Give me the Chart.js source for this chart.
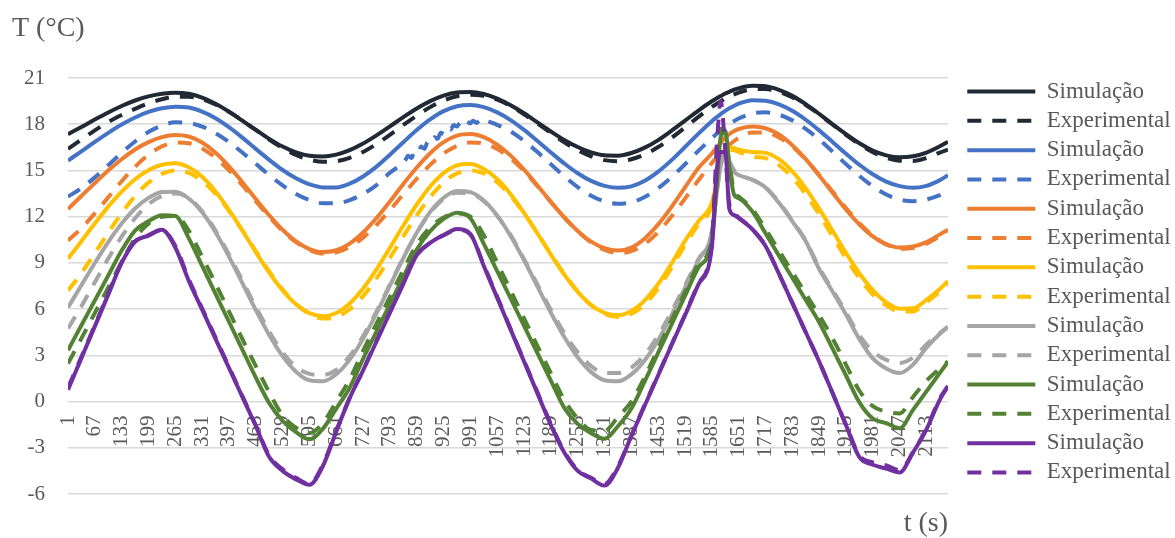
<!DOCTYPE html>
<html>
<head>
<meta charset="utf-8">
<script src="https://cdn.jsdelivr.net/npm/chart.js@4.4.1/dist/chart.umd.min.js"></script>
<style>
  html, body { margin: 0; padding: 0; background: #ffffff; }
  canvas { display: block; }
</style>
</head>
<body>
<canvas id="chart" width="1175" height="538"></canvas>
<script>
// Time samples (s) shared by every series
const times = [
  1, 34, 67, 100, 133, 166, 199, 232, 265, 298,
  331, 364, 397, 430, 463, 496, 529, 562, 595, 628,
  661, 694, 727, 760, 793, 826, 859, 892, 925, 958,
  991, 1024, 1057, 1090, 1123, 1156, 1189, 1222, 1255, 1288,
  1321, 1354, 1387, 1420, 1453, 1486, 1519, 1552, 1585, 1597,
  1607, 1618, 1628, 1640, 1651, 1684, 1717, 1750, 1783, 1816,
  1849, 1882, 1915, 1948, 1981, 2014, 2047, 2080, 2113, 2146,
  2166
];

// Category labels shown along the time axis
const timeTicks = [1, 67, 133, 199, 265, 331, 397, 463, 529, 595, 661, 727, 793, 859, 925, 991,
  1057, 1123, 1189, 1255, 1321, 1387, 1453, 1519, 1585, 1651, 1717, 1783, 1849, 1915, 1981, 2047, 2113];

// Temperatures (°C)
const simBlack = [
  17.35, 17.82, 18.30, 18.76, 19.18, 19.54, 19.81, 19.98, 20.05, 19.98,
  19.73, 19.33, 18.82, 18.23, 17.63, 17.05, 16.55, 16.17, 15.95, 15.91,
  16.03, 16.32, 16.75, 17.28, 17.86, 18.46, 19.02, 19.50, 19.86, 20.06,
  20.09, 19.96, 19.66, 19.23, 18.71, 18.12, 17.53, 16.98, 16.52, 16.17,
  15.98, 15.96, 16.13, 16.48, 16.97, 17.58, 18.23, 18.89, 19.49, 19.68,
  19.83, 19.99, 20.11, 20.24, 20.33, 20.49, 20.46, 20.23, 19.84, 19.30,
  18.67, 18.00, 17.35, 16.76, 16.29, 15.98, 15.85, 15.92, 16.16, 16.57,
  16.87
];
const expBlack = [
  16.40, 17.00, 17.60, 18.15, 18.60, 19.00, 19.35, 19.62, 19.78, 19.78,
  19.62, 19.28, 18.81, 18.24, 17.63, 17.01, 16.46, 16.01, 15.70, 15.56,
  15.60, 15.82, 16.20, 16.72, 17.31, 17.95, 18.56, 19.11, 19.54, 19.82,
  19.92, 19.84, 19.59, 19.18, 18.65, 18.05, 17.43, 16.83, 16.31, 15.91,
  15.67, 15.60, 15.73, 16.04, 16.52, 17.12, 17.79, 18.48, 19.12, 19.33,
  19.49, 19.66, 19.80, 19.94, 20.05, 20.27, 20.28, 20.11, 19.75, 19.25,
  18.65, 17.98, 17.31, 16.70, 16.19, 15.82, 15.63, 15.62, 15.81, 16.16,
  16.35
];
const simBlue = [
  15.64, 16.24, 16.85, 17.44, 17.98, 18.44, 18.80, 19.04, 19.14, 19.08,
  18.82, 18.39, 17.81, 17.13, 16.40, 15.69, 15.03, 14.49, 14.10, 13.90,
  13.90, 14.14, 14.61, 15.25, 16.02, 16.83, 17.62, 18.31, 18.85, 19.17,
  19.25, 19.11, 18.77, 18.27, 17.63, 16.91, 16.17, 15.45, 14.82, 14.32,
  14.00, 13.87, 13.97, 14.33, 14.92, 15.67, 16.52, 17.39, 18.20, 18.46,
  18.66, 18.87, 19.03, 19.20, 19.33, 19.56, 19.52, 19.29, 18.87, 18.29,
  17.60, 16.85, 16.09, 15.37, 14.75, 14.27, 13.98, 13.87, 14.00, 14.37,
  14.69
];
const expBlue = [
  13.30, 13.85, 14.55, 15.34, 16.14, 16.88, 17.49, 17.91, 18.12, 18.08,
  17.85, 17.42, 16.85, 16.16, 15.43, 14.70, 14.03, 13.47, 13.08, 12.87,
  12.87, 13.07, 13.48, 14.05, 14.85, 15.50, 16.45, 17.30, 17.80, 18.00,
  18.10, 18.18, 17.96, 17.53, 16.92, 16.19, 15.40, 14.62, 13.92, 13.36,
  12.99, 12.84, 12.94, 13.28, 13.84, 14.57, 15.40, 16.27, 17.10, 17.38,
  17.60, 17.82, 18.01, 18.21, 18.37, 18.70, 18.77, 18.62, 18.25, 17.70,
  17.01, 16.22, 15.41, 14.64, 13.97, 13.44, 13.11, 13.00, 13.12, 13.40,
  13.65
];
// Finer, jittery stretch of the blue measurement (s, °C)
const expBlueFineTimes = [
  830, 838, 846, 854, 862, 870, 878, 886, 894, 902,
  910, 918, 926, 934, 942, 950, 958, 966, 974, 982,
  990, 998, 1006, 1014, 1022, 1030, 1038
];
const expBlueFineValues = [
  15.62, 15.95, 15.80, 16.25, 16.15, 16.55, 16.40, 16.85, 16.75, 17.15,
  17.05, 17.45, 17.35, 17.75, 17.65, 17.95, 17.85, 18.10, 17.95, 18.20,
  18.05, 18.22, 18.08, 18.24, 18.10, 18.22, 18.15
];
const simOrange = [
  12.50, 13.34, 14.18, 14.99, 15.73, 16.36, 16.84, 17.16, 17.30, 17.20,
  16.81, 16.15, 15.27, 14.24, 13.15, 12.09, 11.15, 10.40, 9.90, 9.70,
  9.82, 10.25, 10.97, 11.91, 12.99, 14.12, 15.19, 16.12, 16.84, 17.26,
  17.36, 17.16, 16.68, 15.96, 15.05, 14.02, 12.96, 11.95, 11.07, 10.38,
  9.95, 9.80, 10.00, 10.59, 11.50, 12.64, 13.90, 15.16, 16.10, 16.50,
  16.80, 17.15, 17.36, 17.56, 17.69, 17.85, 17.74, 17.33, 16.64, 15.73,
  14.67, 13.55, 12.46, 11.49, 10.72, 10.21, 10.00, 10.07, 10.35, 10.85,
  11.15
];
const expOrange = [
  10.46, 11.25, 12.21, 13.26, 14.30, 15.24, 16.02, 16.56, 16.81, 16.76,
  16.42, 15.82, 15.01, 14.04, 13.01, 12.00, 11.08, 10.34, 9.84, 9.61,
  9.68, 10.03, 10.64, 11.46, 12.42, 13.45, 14.46, 15.36, 16.10, 16.59,
  16.82, 16.75, 16.39, 15.78, 14.95, 13.98, 12.95, 11.95, 11.05, 10.33,
  9.85, 9.64, 9.76, 10.23, 11.00, 12.02, 13.17, 14.36, 15.48, 15.85,
  16.13, 16.42, 16.66, 16.91, 17.11, 17.46, 17.46, 17.14, 16.55, 15.71,
  14.71, 13.63, 12.56, 11.58, 10.76, 10.20, 9.92, 9.97, 10.25, 10.75,
  11.10
];
const simYellow = [
  9.27, 10.41, 11.55, 12.65, 13.62, 14.43, 15.02, 15.37, 15.47, 15.21,
  14.59, 13.64, 12.44, 11.10, 9.70, 8.37, 7.21, 6.31, 5.74, 5.54,
  5.75, 6.37, 7.34, 8.58, 9.98, 11.43, 12.79, 13.96, 14.83, 15.33,
  15.42, 15.10, 14.44, 13.46, 12.25, 10.91, 9.54, 8.24, 7.12, 6.27,
  5.75, 5.60, 5.88, 6.57, 7.63, 8.96, 10.43, 11.70, 12.90, 14.30,
  15.50, 16.30, 16.50, 16.45, 16.35, 16.20, 16.14, 15.73, 14.94, 13.84,
  12.52, 11.09, 9.65, 8.33, 7.23, 6.44, 6.03, 6.05, 6.60, 7.30,
  7.83
];
const expYellow = [
  7.20, 8.34, 9.63, 10.96, 12.23, 13.34, 14.21, 14.78, 15.00, 14.84,
  14.32, 13.48, 12.38, 11.11, 9.76, 8.45, 7.27, 6.33, 5.68, 5.39,
  5.49, 5.99, 6.84, 7.99, 9.32, 10.72, 12.08, 13.28, 14.22, 14.81,
  15.00, 14.80, 14.23, 13.34, 12.21, 10.92, 9.57, 8.28, 7.15, 6.26,
  5.69, 5.49, 5.70, 6.30, 7.35, 8.70, 10.15, 11.50, 12.70, 14.20,
  15.50, 16.20, 16.35, 16.30, 16.20, 15.90, 15.80, 15.35, 14.55, 13.45,
  12.15, 10.72, 9.30, 8.00, 6.95, 6.25, 5.85, 5.85, 6.45, 7.15,
  7.65
];
const simGray = [
  6.10, 7.55, 8.99, 10.35, 11.55, 12.53, 13.22, 13.60, 13.62, 13.18,
  12.28, 10.99, 9.41, 7.68, 5.94, 4.32, 2.95, 1.94, 1.38, 1.32,
  1.77, 2.72, 4.07, 5.72, 7.52, 9.31, 10.95, 12.31, 13.23, 13.67,
  13.59, 13.05, 12.07, 10.75, 9.17, 7.46, 5.76, 4.19, 2.87, 1.91,
  1.38, 1.31, 1.76, 2.68, 4.00, 5.61, 7.38, 9.16, 11.00, 13.50,
  15.30, 16.10, 15.50, 14.90, 14.70, 14.40, 13.90, 12.90, 11.70, 10.40,
  8.60, 7.15, 5.65, 4.05, 2.80, 2.15, 1.85, 2.40, 3.50, 4.40,
  4.85
];
const expGray = [
  4.74, 6.19, 7.74, 9.28, 10.70, 11.90, 12.81, 13.35, 13.50, 13.21,
  12.35, 11.10, 9.55, 7.85, 6.15, 4.55, 3.20, 2.25, 1.80, 1.72,
  2.05, 2.95, 4.25, 5.85, 7.60, 9.35, 10.95, 12.25, 13.15, 13.55,
  13.50, 13.00, 12.05, 10.80, 9.25, 7.60, 5.95, 4.45, 3.20, 2.30,
  1.85, 1.85, 2.20, 3.05, 4.30, 5.85, 7.55, 9.25, 11.00, 13.60,
  15.50, 16.20, 15.60, 15.00, 14.75, 14.40, 13.90, 12.95, 11.75, 10.45,
  8.70, 7.25, 5.80, 4.30, 3.25, 2.70, 2.50, 2.85, 3.70, 4.45,
  4.85
];
const simGreen = [
  3.33, 4.95, 6.56, 8.18, 9.80, 11.10, 11.70, 12.10, 12.05, 10.61,
  8.80, 6.99, 5.18, 3.37, 1.56, -0.10, -1.25, -1.98, -2.45, -1.77,
  -0.46, 0.90, 2.77, 4.54, 6.32, 8.09, 9.86, 11.05, 11.85, 12.25,
  11.90, 10.24, 8.46, 6.69, 4.91, 3.14, 1.36, -0.41, -1.45, -2.05,
  -2.42, -1.60, -0.45, 1.32, 3.17, 5.01, 6.85, 8.70, 10.40, 14.00,
  17.20, 17.60, 15.30, 13.40, 13.20, 12.36, 10.92, 9.47, 8.03, 6.59,
  5.15, 3.43, 1.69, -0.05, -1.10, -1.40, -1.74, -0.54, 0.66, 1.86,
  2.58
];
const expGreen = [
  2.47, 4.10, 5.75, 7.40, 9.05, 10.60, 11.55, 12.00, 12.05, 11.10,
  9.40, 7.65, 5.85, 4.05, 2.30, 0.60, -0.90, -1.70, -2.05, -1.40,
  0.00, 1.45, 3.30, 5.05, 6.80, 8.55, 10.20, 11.30, 11.95, 12.20,
  12.00, 10.80, 9.00, 7.20, 5.40, 3.60, 1.85, 0.10, -1.10, -1.85,
  -1.90, -1.00, 0.00, 1.60, 3.45, 5.30, 7.10, 8.90, 10.60, 15.00,
  17.70, 17.20, 15.50, 13.60, 13.30, 12.50, 11.20, 9.80, 8.40, 7.00,
  5.60, 4.10, 2.40, 0.70, -0.30, -0.65, -0.77, 0.30, 1.35, 2.15,
  2.60
];
const simPurple = [
  0.76, 2.82, 4.88, 6.94, 9.00, 10.39, 10.77, 11.15, 10.00, 7.85,
  5.96, 4.07, 2.19, 0.30, -1.59, -3.60, -4.50, -5.05, -5.40, -4.19,
  -1.94, 0.22, 2.02, 3.90, 5.77, 7.64, 9.50, 10.30, 10.80, 11.20,
  10.87, 8.80, 6.73, 4.67, 2.60, 0.53, -1.53, -3.31, -4.50, -5.00,
  -5.45, -4.30, -2.23, -0.26, 1.71, 3.68, 5.60, 7.60, 10.00, 15.00,
  16.20, 16.20, 12.50, 12.10, 11.90, 11.20, 10.10, 8.30, 6.40, 4.50,
  2.60, 0.55, -1.53, -3.61, -4.10, -4.35, -4.60, -3.30, -1.80, 0.13,
  1.00
];
const expPurple = [
  0.90, 2.90, 4.95, 7.00, 9.05, 10.40, 10.80, 11.15, 10.10, 7.95,
  6.05, 4.15, 2.25, 0.35, -1.55, -3.50, -4.40, -4.95, -5.35, -4.10,
  -1.90, 0.25, 2.05, 3.95, 5.80, 7.70, 9.50, 10.30, 10.80, 11.15,
  10.85, 8.85, 6.80, 4.70, 2.65, 0.60, -1.45, -3.25, -4.45, -4.95,
  -5.35, -4.20, -2.20, -0.20, 1.75, 3.70, 5.65, 7.65, 10.30, 16.50,
  19.50, 16.30, 12.80, 12.20, 11.95, 11.20, 10.10, 8.30, 6.40, 4.50,
  2.60, 0.55, -1.50, -3.50, -3.95, -4.15, -4.45, -3.30, -1.75, 0.20,
  1.00
];

const FONT = "'Liberation Serif', 'Times New Roman', serif";
const TEXT = '#595959';
const DASH = [14, 11];

// Pair the shared time samples with a value list, optionally splicing in a finer stretch
function toPoints(values, fineTimes, fineValues) {
  const pts = [];
  const lo = fineTimes ? fineTimes[0] : Infinity;
  const hi = fineTimes ? fineTimes[fineTimes.length - 1] : -Infinity;
  values.forEach((v, k) => {
    if (times[k] < lo || times[k] > hi) pts.push({ x: times[k], y: v });
  });
  if (fineTimes) fineTimes.forEach((t, k) => pts.push({ x: t, y: fineValues[k] }));
  return pts.sort((a, b) => a.x - b.x);
}

const seriesList = [
  { label: 'Simulação',    points: toPoints(simBlack),   color: '#212934', dashed: false },
  { label: 'Experimental', points: toPoints(expBlack),   color: '#212934', dashed: true },
  { label: 'Simulação',    points: toPoints(simBlue),    color: '#4472c4', dashed: false },
  { label: 'Experimental', points: toPoints(expBlue, expBlueFineTimes, expBlueFineValues), color: '#4472c4', dashed: true },
  { label: 'Simulação',    points: toPoints(simOrange),  color: '#ed7d31', dashed: false },
  { label: 'Experimental', points: toPoints(expOrange),  color: '#ed7d31', dashed: true },
  { label: 'Simulação',    points: toPoints(simYellow),  color: '#ffc000', dashed: false },
  { label: 'Experimental', points: toPoints(expYellow),  color: '#ffc000', dashed: true },
  { label: 'Simulação',    points: toPoints(simGray),    color: '#a5a5a5', dashed: false },
  { label: 'Experimental', points: toPoints(expGray),    color: '#a5a5a5', dashed: true },
  { label: 'Simulação',    points: toPoints(simGreen),   color: '#548235', dashed: false },
  { label: 'Experimental', points: toPoints(expGreen),   color: '#548235', dashed: true },
  { label: 'Simulação',    points: toPoints(simPurple),  color: '#7030a0', dashed: false },
  { label: 'Experimental', points: toPoints(expPurple),  color: '#7030a0', dashed: true }
];

// Later series are painted on top of earlier ones
const datasets = seriesList.map((s, i) => ({
  label: s.label,
  data: s.points,
  borderColor: s.color,
  backgroundColor: s.color,
  borderWidth: 4,
  borderDash: s.dashed ? DASH : [],
  borderCapStyle: 'butt',
  borderJoinStyle: 'round',
  pointRadius: 0,
  pointHoverRadius: 0,
  cubicInterpolationMode: 'monotone',
  fill: false,
  order: seriesList.length - i
}));

// Legend entries: a short stroke in the series' own colour and dash
function legendLabels(chart) {
  const items = Chart.defaults.plugins.legend.labels.generateLabels(chart);
  items.forEach(item => {
    const ds = chart.data.datasets[item.datasetIndex];
    item.lineDash = ds.borderDash;
    item.lineDashOffset = 0;
    item.lineWidth = ds.borderWidth;
    item.strokeStyle = ds.borderColor;
    item.fillStyle = ds.borderColor;
    item.lineCap = 'butt';
  });
  return items;
}

new Chart(document.getElementById('chart'), {
  type: 'line',
  data: { datasets },
  options: {
    responsive: false,
    animation: false,
    devicePixelRatio: 1,
    events: [],
    layout: { padding: { left: 12, right: 0, top: 0, bottom: 0 } },
    plugins: {
      title: {
        display: true,
        text: 'T (°C)',
        align: 'start',
        color: TEXT,
        font: { family: FONT, size: 28, weight: 'normal', lineHeight: 1.2 },
        padding: { top: 12, bottom: 32.4 }
      },
      subtitle: {
        display: true,
        text: 't (s)',
        position: 'bottom',
        align: 'end',
        fullSize: false,
        color: TEXT,
        font: { family: FONT, size: 28, weight: 'normal', lineHeight: 1 },
        padding: { top: 16, bottom: 0 }
      },
      legend: {
        position: 'right',
        align: 'center',
        fullSize: true,
        maxWidth: 214,
        title: { display: true, text: '', padding: 0, font: { family: FONT, size: 20, lineHeight: 1.3 } },
        labels: {
          usePointStyle: true,
          pointStyle: 'line',
          pointStyleWidth: 68,
          color: TEXT,
          font: { family: FONT, size: 23 },
          padding: 6.3,
          generateLabels: legendLabels,
          sort: (a, b) => a.datasetIndex - b.datasetIndex
        }
      },
      tooltip: { enabled: false }
    },
    scales: {
      x: {
        type: 'linear',
        min: 1,
        max: 2166,
        position: { y: 0 },
        afterBuildTicks: (scale) => { scale.ticks = timeTicks.map(v => ({ value: v })); },
        grid: { display: false, drawTicks: false },
        border: { display: false },
        ticks: {
          autoSkip: false,
          minRotation: 90,
          maxRotation: 90,
          padding: 14,
          color: TEXT,
          font: { family: FONT, size: 21 },
          callback: (v) => String(v)
        }
      },
      y: {
        type: 'linear',
        min: -6,
        max: 21,
        afterFit: (scale) => { scale.width = 56; },
        grid: { color: '#d9d9d9', lineWidth: 1.5, drawTicks: false },
        border: { display: false },
        ticks: {
          stepSize: 3,
          padding: 23,
          color: TEXT,
          font: { family: FONT, size: 21 }
        }
      },
      legendGap: {
        type: 'linear',
        position: 'right',
        display: true,
        afterFit: (scale) => { scale.width = 13; },
        grid: { display: false, drawTicks: false },
        border: { display: false },
        ticks: { display: false }
      }
    }
  }
});
</script>
</body>
</html>
